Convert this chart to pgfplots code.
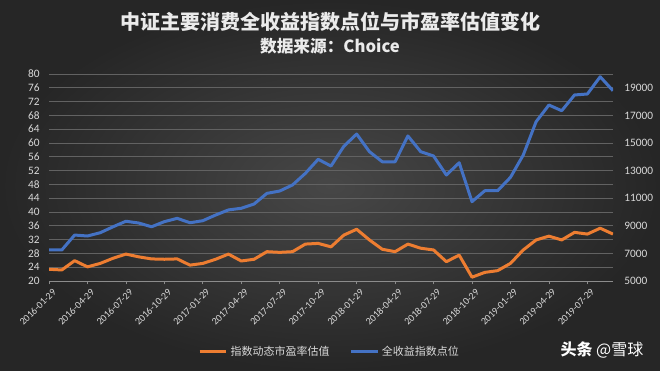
\documentclass[border=0pt]{standalone}
\usepackage{pgfplots}
\pgfplotsset{compat=1.18}
\usepackage{pgfplotstable}
\usepackage{fontspec}
\setmainfont{Carlito}
\newfontfamily\cjk{Noto Sans CJK SC}
\definecolor{bgin}{HTML}{474747}
\definecolor{bgout}{HTML}{262626}
\definecolor{org}{HTML}{ED7D31}
\definecolor{blu}{HTML}{4472C4}
\definecolor{lbl}{HTML}{D9D9D9}
\definecolor{grd}{HTML}{626262}
\definecolor{axl}{HTML}{8C8C8C}

\pgfplotstableread{
i pe idx
0 23.4 7250
1 23.2 7250
2 25.9 8330
3 24.1 8260
4 25.1 8500
5 26.6 8930
6 27.8 9330
7 27.0 9200
8 26.4 8930
9 26.3 9300
10 26.4 9540
11 24.6 9220
12 25.1 9370
13 26.3 9780
14 27.8 10150
15 25.8 10270
16 26.3 10580
17 28.5 11350
18 28.3 11520
19 28.5 11960
20 30.7 12800
21 30.9 13820
22 29.9 13330
23 33.3 14760
24 35.0 15650
25 31.9 14370
26 29.2 13640
27 28.5 13640
28 30.7 15510
29 29.5 14370
30 29.0 14060
31 25.6 12680
32 27.5 13570
33 21.1 10750
34 22.5 11540
35 23.0 11540
36 25.1 12510
37 29.0 14130
38 31.9 16540
39 33.0 17750
40 31.9 17340
41 34.1 18480
42 33.6 18550
43 35.3 19800
44 33.6 18790
}\data

\pgfplotsset{
  base/.style={
    scale only axis, width=423pt, height=155.25pt,
    xmin=0, xmax=44, at={(36.75pt,67.5pt)}, anchor=south west,
    /pgf/number format/assume math mode=true,
    /pgf/number format/set thousands separator={},
    scaled y ticks=false,
    ticklabel style={font=\fontsize{8.5}{9}\selectfont, text=lbl},
  }
}

\begin{document}
\begin{tikzpicture}[x=0.75pt,y=0.75pt]
\shade[inner color=bgin, outer color=bgout] (0,0) rectangle (660,371);
\useasboundingbox (0,0) rectangle (660,371);

\node[text=white!92!black, font=\cjk\bfseries\fontsize{15}{16}\selectfont] at (330,349) {中证主要消费全收益指数点位与市盈率估值变化};
\node[text=white!92!black, font=\cjk\bfseries\fontsize{12.5}{14}\selectfont] at (330,325) {数据来源：Choice};

\begin{axis}[base,
  ymin=20, ymax=80, ytick={20,24,...,80},
  axis x line*=bottom, axis y line*=left,
  y axis line style={draw=none},
  x axis line style={draw=axl, line width=0.7pt},
  ymajorgrids, grid style={draw=grd, line width=0.6pt},
  ytick style={draw=none},
  xtick={0,3,...,42},
  xticklabels={2016-01-29,2016-04-29,2016-07-29,2016-10-29,2017-01-29,2017-04-29,2017-07-29,2017-10-29,2018-01-29,2018-04-29,2018-07-29,2018-10-29,2019-01-29,2019-04-29,2019-07-29},
  xtick style={draw=axl, line width=0.6pt},
  tick align=outside, major tick length=2.5pt,
  x tick label style={rotate=45, anchor=north east, font=\fontsize{7.5}{8}\selectfont, text=lbl, xshift=3pt, yshift=0pt},
  yticklabel style={anchor=east, xshift=-1pt},
  legend columns=2,
  legend style={at={(0.498,-0.343)}, anchor=center, draw=none, fill=none,
    font=\cjk\fontsize{8.25}{9}\selectfont, text=lbl,
    /tikz/every even column/.append style={column sep=13pt}},
  legend image code/.code={\draw[#1] (0pt,0pt) -- (20pt,0pt);},
]
\addplot[org, line width=2.25pt, line join=round] table[x=i, y=pe] {\data};
\addlegendentry{指数动态市盈率估值}
\addlegendimage{blu, line width=2.25pt}
\addlegendentry{全收益指数点位}
\end{axis}

\begin{axis}[base,
  ymin=5000, ymax=20000, ytick={5000,7000,...,19000},
  axis x line=none, axis y line*=right,
  y axis line style={draw=none}, ytick style={draw=none},
  yticklabel style={anchor=west, xshift=5pt},
]
\addplot[blu, line width=2.25pt, line join=round] table[x=i, y=idx] {\data};
\end{axis}

\node[text=white, font=\cjk\fontsize{12}{13}\selectfont, anchor=east] at (648,21) {{\bfseries 头条} @雪球};
\end{tikzpicture}
\end{document}
